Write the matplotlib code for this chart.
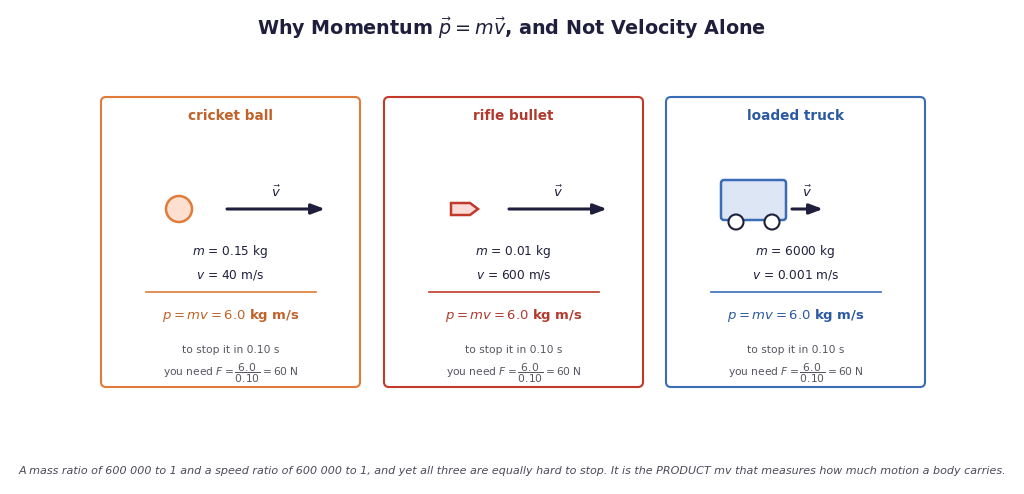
import matplotlib.pyplot as plt
from matplotlib.patches import FancyBboxPatch, Circle, Polygon

names = ['cricket ball', 'rifle bullet', 'loaded truck']
masses = ['0.15', '0.01', '6000']
speeds = ['40', '600', '0.001']
momentum = '6.0'
stop_time = '0.10'
force = '60'
edge_cols = ['#e07b39', '#c0392b', '#3a6db5']
text_cols = ['#c0622a', '#b03a2e', '#2c5aa0']
face_cols = ['#fde0d0', '#fadbd8', '#dce6f5']
navy = '#1f1f3d'

fig = plt.figure(figsize=(10.24, 4.94), dpi=100)
ax = fig.add_axes([0, 0, 1, 1])
ax.set_xlim(0, 1024)
ax.set_ylim(494, 0)
ax.axis('off')

ax.text(512, 28, r'Why Momentum $\vec{p} = m\vec{v}$, and Not Velocity Alone',
        ha='center', va='center', fontsize=13.8, fontweight='bold', color=navy)

lefts = [101, 384, 666]
w, top, bottom = 259, 97, 387
# arrow start / end for each panel
arr = [(227, 325), (509, 607), (792, 823)]

for i in range(3):
    x0 = lefts[i]
    cx = x0 + w / 2
    box = FancyBboxPatch((x0, top), w, bottom - top, boxstyle='round,pad=0,rounding_size=5',
                         fc='white', ec=edge_cols[i], lw=1.5)
    ax.add_patch(box)
    ax.text(cx, 116, names[i], ha='center', va='center', fontsize=9.8,
            fontweight='bold', color=text_cols[i])
    y = 209
    if i == 0:
        ax.add_patch(Circle((179, y), 13, fc=face_cols[i], ec=edge_cols[i], lw=1.8))
    elif i == 1:
        ax.add_patch(Polygon([(451, 203), (470, 203), (478, 209), (470, 215), (451, 215)],
                             closed=True, fc=face_cols[i], ec=edge_cols[i], lw=1.8))
    else:
        ax.add_patch(FancyBboxPatch((721, 180), 65, 40, boxstyle='round,pad=0,rounding_size=3',
                                    fc=face_cols[i], ec=edge_cols[i], lw=1.8))
        for wx in (736, 772):
            ax.add_patch(Circle((wx, 222), 7.5, fc='white', ec=navy, lw=1.5, zorder=3))
    a0, a1 = arr[i]
    ax.annotate('', xy=(a1, y), xytext=(a0, y),
                arrowprops=dict(arrowstyle='-|>,head_length=0.8,head_width=0.3',
                                color=navy, lw=2.2, shrinkA=0, shrinkB=0))
    ax.text((a0 + a1) / 2, 192, r'$\vec{v}$', ha='center', va='center', fontsize=9.5, color=navy)

    ax.text(cx, 251, r'$m$ = ' + masses[i] + ' kg', ha='center', va='center',
            fontsize=8.7, color=navy)
    ax.text(cx, 275, r'$v$ = ' + speeds[i] + ' m/s', ha='center', va='center',
            fontsize=8.7, color=navy)
    ax.plot([cx - 85, cx + 85], [292, 292], color=edge_cols[i], lw=1.2)
    ax.text(cx, 315, r'$p = mv = $' + momentum + r' $\mathbf{kg\ m/s}$', ha='center',
            va='center', fontsize=9.5, color=text_cols[i])
    ax.text(cx, 350, 'to stop it in ' + stop_time + ' s', ha='center', va='center',
            fontsize=7.7, color='#555560')
    ax.text(cx, 373, r'you need $F = \dfrac{' + momentum + '}{' + stop_time + '} = $' + force + ' N',
            ha='center', va='center', fontsize=7.7, color='#555560')

ax.text(512, 471, 'A mass ratio of 600 000 to 1 and a speed ratio of 600 000 to 1, and yet all three '
        'are equally hard to stop. It is the PRODUCT mv that measures how much motion a body carries.',
        ha='center', va='center', fontsize=8.0, style='italic', color='#4a4a5a')

fig.savefig('out.png', dpi=100)
